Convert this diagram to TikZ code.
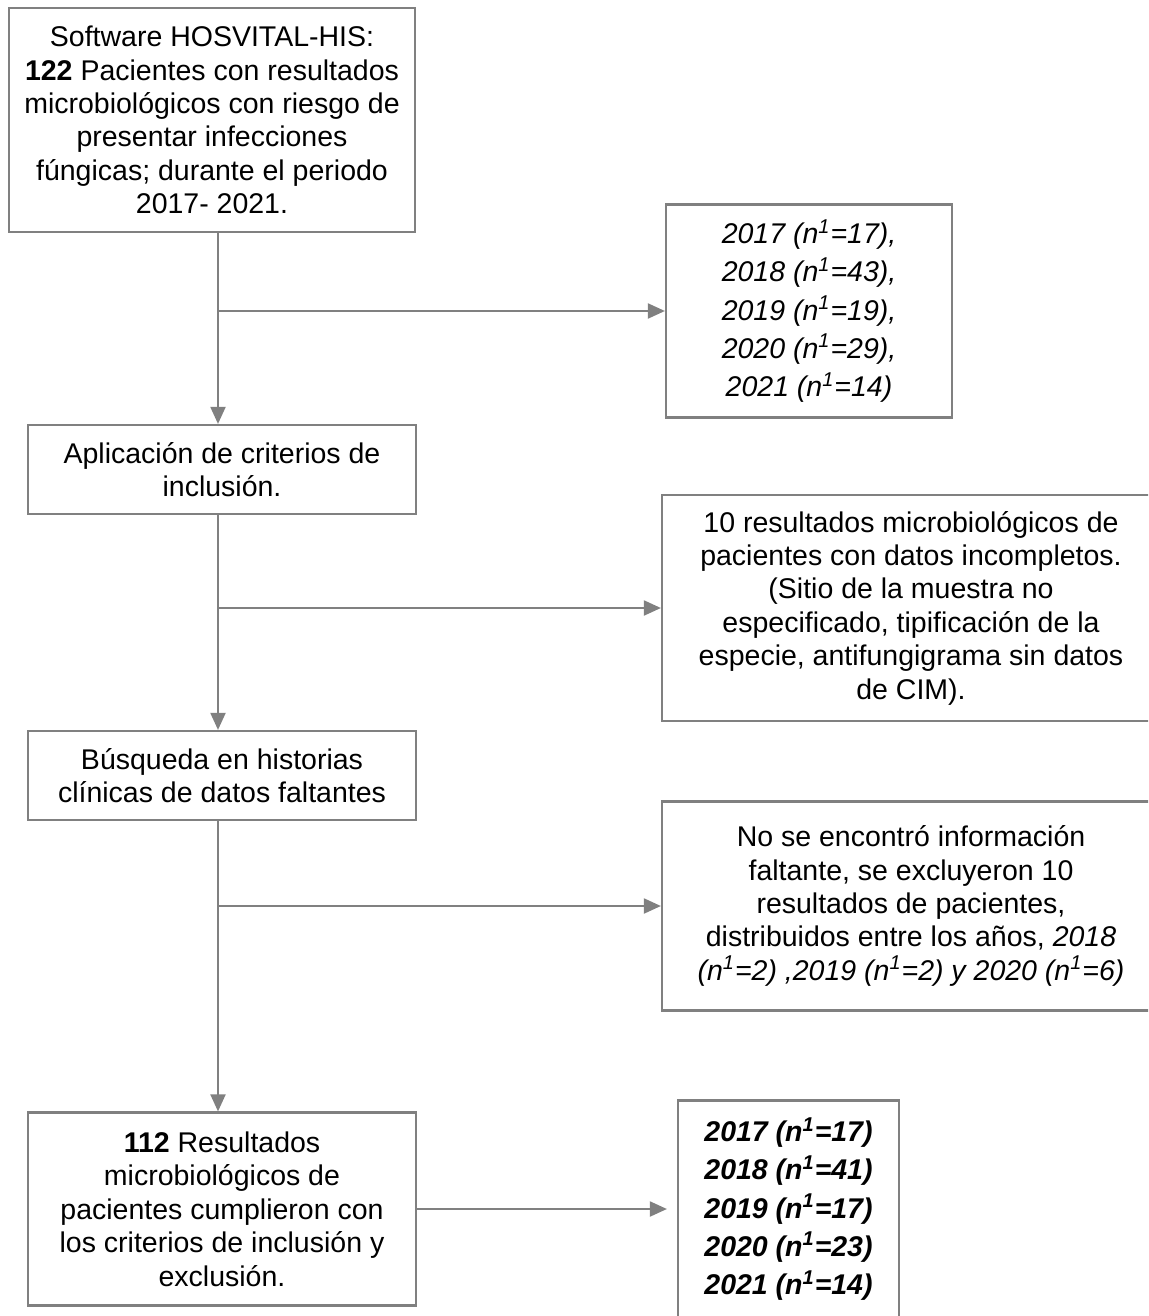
\documentclass[tikz,border=0pt]{standalone}
\usepackage{fontspec}
\setmainfont{Liberation Sans}
\usetikzlibrary{arrows.meta}
\definecolor{gris}{RGB}{128,128,128}

\begin{document}
\begin{tikzpicture}[x=0.5pt, y=-0.5pt,
  caja/.style={draw=gris, line width=1.1pt, align=center, inner sep=0pt,
    font=\fontsize{14.25}{16.7}\selectfont},
  cajaanios/.style={caja, font=\fontsize{14.25}{19.1}\selectfont\itshape},
  flecha/.style={draw=gris, line width=1pt, -{Triangle[length=8.5pt, width=7.5pt]}}]
\path[use as bounding box] (0,0) rectangle (1148,1316);
\clip (0,0) rectangle (1148,1316);
\coordinate (eje) at (218,0);

\node[caja, minimum width=203pt, minimum height=112pt] (inicio) at (212,120)
  {Software HOSVITAL-HIS:\\ \textbf{122} Pacientes con resultados\\ microbiológicos con riesgo de\\ presentar infecciones\\ fúngicas; durante el periodo\\ 2017- 2021.};
\node[cajaanios, minimum width=143pt, minimum height=106.5pt] (anios) at (809,311)
  {2017 (n\textsuperscript{1}=17),\\ 2018 (n\textsuperscript{1}=43),\\ 2019 (n\textsuperscript{1}=19),\\ 2020 (n\textsuperscript{1}=29),\\ 2021 (n\textsuperscript{1}=14)};
\node[caja, minimum width=194pt, minimum height=44.5pt] (inclusion) at (222,469.5)
  {Aplicación de criterios de\\ inclusión.};
\node[caja, minimum width=249pt, minimum height=113pt] (incompletos) at (911,608)
  {10 resultados microbiológicos de\\ pacientes con datos incompletos.\\ (Sitio de la muestra no\\ especificado, tipificación de la\\ especie, antifungigrama sin datos\\ de CIM).};
\node[caja, minimum width=194pt, minimum height=44.5pt] (busqueda) at (222,775.5)
  {Búsqueda en historias\\ clínicas de datos faltantes};
\node[caja, minimum width=249pt, minimum height=104.5pt] (excluidos) at (911,906)
  {No se encontró información\\ faltante, se excluyeron 10\\ resultados de pacientes,\\ distribuidos entre los años, \textit{2018}\\ \textit{(n\textsuperscript{1}=2) ,2019 (n\textsuperscript{1}=2) y 2020 (n\textsuperscript{1}=6)}};
\node[caja, minimum width=194pt, minimum height=96.5pt] (final) at (222,1209)
  {\textbf{112} Resultados\\ microbiológicos de\\ pacientes cumplieron con\\ los criterios de inclusión y\\ exclusión.};
\node[cajaanios, font=\fontsize{14.25}{19.1}\selectfont\bfseries\itshape,
  minimum width=110.5pt, minimum height=108.5pt] (finales) at (788.5,1209)
  {2017 (n\textsuperscript{1}=17)\\ 2018 (n\textsuperscript{1}=41)\\ 2019 (n\textsuperscript{1}=17)\\ 2020 (n\textsuperscript{1}=23)\\ 2021 (n\textsuperscript{1}=14)};

\foreach \a/\b in {inicio/inclusion, inclusion/busqueda, busqueda/final}
  \draw[flecha] (\a.south -| eje) -- (\b.north -| eje);
\foreach \n in {anios, incompletos, excluidos}
  \draw[flecha] (eje |- \n.west) -- (\n.west);
\draw[flecha, shorten >=5pt] (final.east) -- (finales.west);
\end{tikzpicture}
\end{document}
